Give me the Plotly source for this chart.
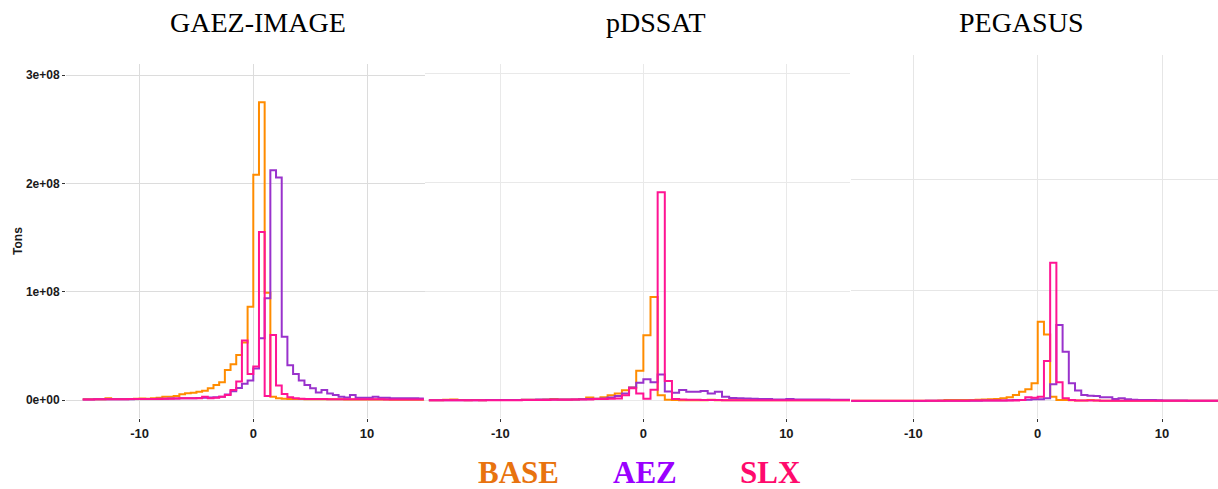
import numpy as np
import plotly.graph_objects as go

# ---------------- data (tons, in millions) ----------------
bin_width = 0.5
bin_left = [-15 + bin_width * i for i in range(60)]
models = ["GAEZ-IMAGE", "pDSSAT", "PEGASUS"]
series_names = ["BASE", "AEZ", "SLX"]

gaez_base = [0.6, 0.6, 0.8, 0.8, 1.5, 1.0, 1.0, 0.9, 1.0, 1.2, 1.3, 1.2,
             1.5, 2.0, 3.0, 3.0, 3.7, 5.2, 6.2, 6.8, 7.7, 8.6, 10.8, 13.8, 16.3, 27.7, 33, 41.5, 53, 86,
             208, 275, 99, 3,
             1.5, 1.2, 1.0, 1.0, 0.9, 0.8, 0.8, 0.7, 0.7, 0.6, 0.6, 0.6, 0.5, 0.5, 0.5, 0.5,
             0.4, 0.4, 0.4, 0.4, 0.3, 0.3, 0.3, 0.3, 0.3, 0.3]
gaez_aez = [0.5, 0.5, 0.6, 0.6, 0.7, 0.7, 0.8, 0.8, 0.8, 0.9, 1.0, 1.0,
            1.0, 1.2, 1.2, 1.3, 1.4, 1.5, 1.5, 1.6, 1.8, 2.0, 2.2, 2.5, 3.0, 5.0, 8.0, 11, 15, 18,
            29, 57, 94, 212,
            205.5, 58.5, 32, 24, 18, 13.8, 10.8, 7, 9.2, 6, 4.6, 3, 2.2, 4.6, 2, 2,
            2, 3, 2, 2, 1.5, 1.5, 1.5, 1.5, 1.5, 1.3]
gaez_slx = [0.5, 0.5, 0.6, 0.6, 0.7, 0.8, 0.8, 0.8, 0.9, 0.9, 1.0, 1.0,
            1.0, 1.0, 1.2, 1.2, 1.3, 1.5, 1.5, 1.5, 1.5, 3.0, 1.5, 2.0, 3.0, 4.6, 9.2, 17, 55, 24,
            31, 155, 3.7, 60,
            13.5, 5.5, 2.5, 1.5, 1.2, 1.0, 1.0, 0.9, 0.9, 0.8, 0.8, 0.8, 0.7, 0.7, 0.7, 0.6,
            0.6, 0.6, 0.6, 0.5, 0.5, 0.5, 0.5, 0.5, 0.5, 0.5]

pdssat_base = [0.5, 0.5, 0.8, 1.0, 0.6, 0.5, 0.6, 0.5, 0.6, 0.6, 0.6, 0.7,
               0.7, 0.8, 0.8, 0.9, 1.0, 1.5, 1.0, 1.2, 1.2, 1.5, 3.0, 1.8, 3.2, 5.0, 6.5, 9.5, 12, 27.5,
               60, 95, 5, 0.8,
               0.6, 0.5, 0.5, 0.4, 0.4, 0.8, 0.4, 0.4, 0.4, 0.3, 0.3, 0.3, 0.3, 0.3, 0.3, 0.3,
               0.3, 0.3, 0.3, 0.3, 0.3, 0.3, 0.3, 0.3, 0.3, 0.3]
pdssat_aez = [0.3, 0.3, 0.3, 0.4, 0.4, 0.4, 0.5, 0.5, 0.6, 0.6, 0.6, 0.7,
              0.7, 0.8, 0.9, 1.0, 1.0, 1.1, 1.1, 1.2, 1.2, 1.3, 1.5, 1.8, 2.0, 3.0, 4.3, 6.7, 12, 16.5,
              19.6, 17, 24, 8.5,
              7.3, 9.8, 8.3, 8.3, 8.9, 6.7, 8.3, 3.7, 2.5, 2.2, 2.0, 1.8, 1.5, 1.5, 1.2, 1.2,
              1.5, 1.0, 1.0, 1.2, 1.0, 1.0, 0.8, 0.8, 0.8, 0.8]
pdssat_slx = [0.3, 0.3, 0.3, 0.3, 0.3, 0.3, 0.4, 0.4, 0.4, 0.5, 0.5, 0.5,
              0.5, 0.6, 0.6, 0.7, 0.7, 0.8, 0.8, 0.9, 1.0, 1.0, 1.2, 1.5, 1.5, 1.8, 2.0, 5.0, 11.5, 6.7,
              1.8, 10, 191, 18,
              1.5, 1.0, 0.8, 0.8, 0.7, 0.6, 0.6, 0.5, 0.5, 0.5, 0.5, 0.5, 0.4, 0.4, 0.4, 0.4,
              0.4, 0.4, 0.4, 0.4, 0.4, 0.4, 0.4, 0.4, 0.4, 0.4]

pegasus_base = [0.2, 0.2, 0.2, 0.2, 0.2, 0.2, 0.2, 0.2, 0.2, 0.2, 0.2, 0.2,
                0.3, 0.3, 0.5, 0.9, 0.9, 0.9, 1.0, 1.0, 1.2, 1.3, 1.5, 1.8, 2.4, 3.3, 5.4, 8.4, 10.5, 16,
                71.5, 60, 3.9, 1.0,
                0.8, 0.6, 0.5, 0.5, 1.0, 0.4, 0.3, 0.3, 0.3, 0.2, 0.2, 0.2, 0.2, 0.2, 0.2, 0.2,
                0.2, 0.2, 0.2, 0.2, 0.2, 0.2, 0.2, 0.2, 0.2, 0.2]
pegasus_aez = [0.1, 0.1, 0.1, 0.1, 0.1, 0.1, 0.1, 0.1, 0.1, 0.1, 0.1, 0.1,
               0.2, 0.2, 0.2, 0.2, 0.2, 0.3, 0.3, 0.3, 0.3, 0.4, 0.4, 0.4, 0.5, 0.6, 0.8, 1.0, 1.2, 1.5,
               1.5, 2.4, 15, 68.5,
               44.4, 16, 9.5, 5.4, 4.8, 4.5, 3.3, 3.3, 1.8, 2.4, 1.5, 1.2, 1.0, 0.8, 0.8, 0.6,
               0.5, 0.5, 0.4, 0.4, 0.3, 0.3, 0.3, 0.3, 0.3, 0.3]
pegasus_slx = [0.3, 0.3, 0.3, 0.3, 0.3, 0.3, 0.3, 0.3, 0.3, 0.3, 0.3, 0.3,
               0.3, 0.3, 0.3, 0.3, 0.3, 0.3, 0.3, 0.4, 0.4, 0.4, 0.4, 0.4, 0.4, 0.4, 0.5, 1.0, 3.3, 3.0,
               3.9, 36, 124.6, 16.8,
               2.4, 1.0, 0.5, 0.5, 0.5, 0.4, 0.3, 0.3, 0.3, 0.3, 0.3, 0.3, 0.3, 0.3, 0.3, 0.3,
               0.3, 0.3, 0.3, 0.3, 0.3, 0.3, 0.3, 0.3, 0.3, 0.3]

panel_data = {
    "GAEZ-IMAGE": [gaez_base, gaez_aez, gaez_slx],
    "pDSSAT": [pdssat_base, pdssat_aez, pdssat_slx],
    "PEGASUS": [pegasus_base, pegasus_aez, pegasus_slx],
}

x_tick_vals = [-10, 0, 10]
x_tick_text = ["-10", "0", "10"]
y_tick_vals = [0, 1e8, 2e8, 3e8]
y_tick_text = ["0e+00", "1e+08", "2e+08", "3e+08"]

# ---------------- styles ----------------
line_colors = ["#FF8C00", "#9932CC", "#FF1493"]
legend_colors = ["#E8730F", "#9A00FF", "#FF0A6C"]
W, H = 1218, 489

# panel pixel layout: (left, right, top, bottom), x range, y range
panels = [
    dict(px=(66, 425, 64, 418), xr=[-16.47, 15.1], yr=[-0.1662e8, 3.102e8], grid="#DCDCDC"),
    dict(px=(425, 850, 64, 418), xr=[-15.27, 14.45], yr=[-0.1586e8, 3.086e8], grid="#E9E9E9"),
    dict(px=(851, 1218, 55, 418), xr=[-15.02, 14.5], yr=[-0.1534e8, 3.121e8], grid="#E6E6E6"),
]

fig = go.Figure()
edges = list(bin_left) + [bin_left[-1] + bin_width]

for p, model in enumerate(models):
    sfx = "" if p == 0 else str(p + 1)
    for s, name in enumerate(series_names):
        vals = np.array(panel_data[model][s]) * 1e6
        yv = list(vals) + [vals[-1]]
        fig.add_trace(go.Scatter(
            x=edges, y=yv, mode="lines", line_shape="hv",
            line=dict(color=line_colors[s], width=2),
            name=name, showlegend=False,
            xaxis="x" + sfx, yaxis="y" + sfx,
        ))

ytickfont = dict(family="Liberation Sans", size=12, color="#1a1a1a", weight="bold")
xtickfont = dict(family="Liberation Sans", size=13, color="#1a1a1a", weight="bold")
layout = dict(
    width=W, height=H,
    margin=dict(l=0, r=0, t=0, b=0),
    paper_bgcolor="white", plot_bgcolor="white",
    showlegend=False,
)
for p, cfg in enumerate(panels):
    sfx = "" if p == 0 else str(p + 1)
    l, r, t, b = cfg["px"]
    xd = [l / W, r / W]
    yd = [1 - b / H, 1 - t / H]
    layout["xaxis" + sfx] = dict(
        domain=xd, range=cfg["xr"], anchor="y" + sfx,
        tickvals=x_tick_vals, ticktext=x_tick_text,
        showgrid=True, gridcolor=cfg["grid"], gridwidth=1,
        zeroline=False, showline=False,
        ticks="outside", ticklen=3, tickcolor="#333333", tickwidth=1,
        tickfont=xtickfont, automargin=False,
    )
    ydict = dict(
        domain=yd, range=cfg["yr"], anchor="x" + sfx,
        tickvals=y_tick_vals if p < 2 else y_tick_vals[:3],
        ticktext=y_tick_text if p < 2 else y_tick_text[:3],
        showgrid=True, gridcolor=cfg["grid"], gridwidth=1,
        zeroline=False, showline=False,
        automargin=False,
    )
    if p == 0:
        ydict.update(ticks="outside", ticklen=3, tickcolor="#333333", tickwidth=1,
                     tickfont=ytickfont, showticklabels=True,
                     title=dict(text="Tons", standoff=0,
                                font=dict(family="Liberation Sans", size=12, color="#1a1a1a", weight="bold")))
    else:
        ydict.update(showticklabels=False, ticks="")
    layout["yaxis" + sfx] = ydict

fig.update_layout(**layout)

# panel titles
title_x = [258, 656, 1021]
for model, tx in zip(models, title_x):
    fig.add_annotation(
        x=tx / W, y=1 - 22 / H, xref="paper", yref="paper",
        text=model, showarrow=False, xanchor="center", yanchor="middle",
        font=dict(family="Liberation Serif", size=28, color="#000000"),
    )

# legend as coloured text
legend_x = [518, 645, 771]
for name, col, lx in zip(series_names, legend_colors, legend_x):
    fig.add_annotation(
        x=lx / W, y=1 - 472 / H, xref="paper", yref="paper",
        text=name, showarrow=False, xanchor="center", yanchor="middle",
        font=dict(family="Liberation Serif", size=31, color=col, weight="bold"),
    )

fig.write_html("out.html")
